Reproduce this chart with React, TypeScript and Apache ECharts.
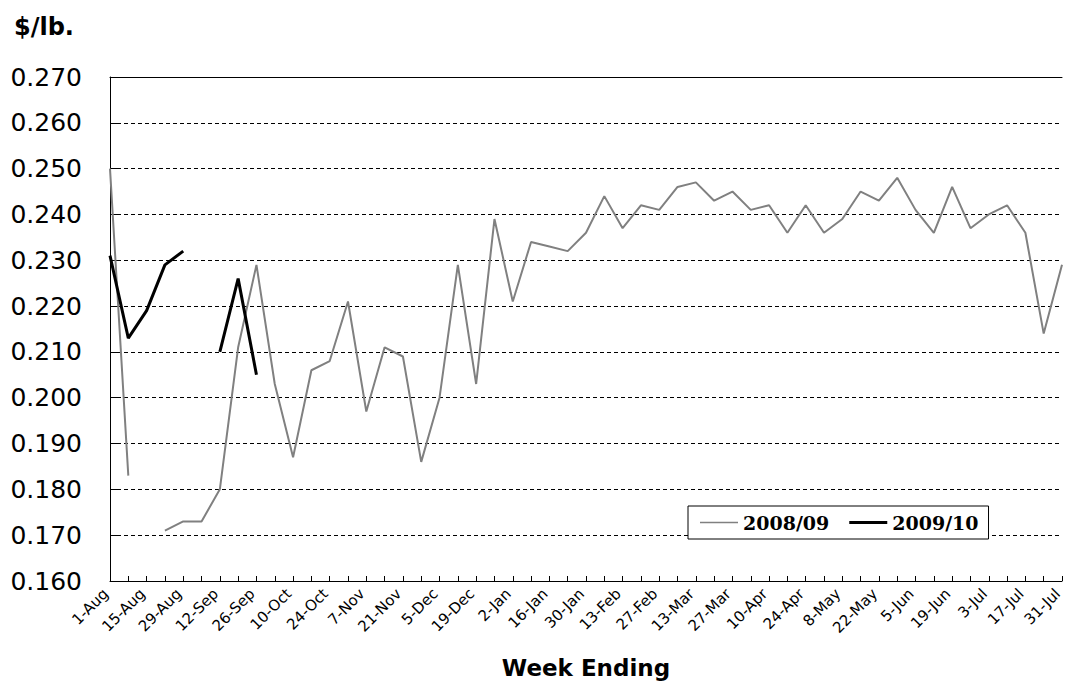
import React, { useEffect, useRef } from "react";
import * as echarts from "echarts";

const weeks = [
  "1-Aug", "8-Aug", "15-Aug", "22-Aug", "29-Aug",
  "5-Sep", "12-Sep", "19-Sep", "26-Sep",
  "3-Oct", "10-Oct", "17-Oct", "24-Oct", "31-Oct",
  "7-Nov", "14-Nov", "21-Nov", "28-Nov",
  "5-Dec", "12-Dec", "19-Dec", "26-Dec",
  "2-Jan", "9-Jan", "16-Jan", "23-Jan", "30-Jan",
  "6-Feb", "13-Feb", "20-Feb", "27-Feb",
  "6-Mar", "13-Mar", "20-Mar", "27-Mar",
  "3-Apr", "10-Apr", "17-Apr", "24-Apr",
  "1-May", "8-May", "15-May", "22-May", "29-May",
  "5-Jun", "12-Jun", "19-Jun", "26-Jun",
  "3-Jul", "10-Jul", "17-Jul", "24-Jul", "31-Jul",
];

const series0809: (number | null)[] = [
  0.250, 0.183, null, 0.171, 0.173,
  0.173, 0.180, 0.211, 0.229,
  0.203, 0.187, 0.206, 0.208, 0.221,
  0.197, 0.211, 0.209, 0.186,
  0.200, 0.229, 0.203, 0.239,
  0.221, 0.234, 0.233, 0.232, 0.236,
  0.244, 0.237, 0.242, 0.241,
  0.246, 0.247, 0.243, 0.245,
  0.241, 0.242, 0.236, 0.242,
  0.236, 0.239, 0.245, 0.243, 0.248,
  0.241, 0.236, 0.246, 0.237,
  0.240, 0.242, 0.236, 0.214, 0.229,
];

const series0910: (number | null)[] = [
  0.231, 0.213, 0.219, 0.229, 0.232,
  null, 0.210, 0.226, 0.205,
];

const seriesNames = ["2008/09", "2009/10"];

const yMin = 0.16;
const yMax = 0.27;
const yStep = 0.01;

export default function App() {
  const ref = useRef<HTMLDivElement>(null);

  useEffect(() => {
    if (!ref.current) return;
    const chart = echarts.init(ref.current, undefined, { renderer: "svg" });
    const option: any = {
      animation: false,
      backgroundColor: "#ffffff",
      title: {
        text: "$/lb.",
        left: 14,
        top: 15,
        padding: 0,
        textStyle: {
          fontFamily: "DejaVu Sans",
          fontWeight: "bold",
          fontSize: 24,
          color: "#000",
        },
      },
      legend: {
        data: [
          { name: seriesNames[0], icon: "path://M0,0H40V1.6H0Z" },
          { name: seriesNames[1], icon: "path://M0,0H40V3H0Z" },
        ],
        symbolKeepAspect: true,
        left: 688,
        top: 506,
        orient: "horizontal",
        itemWidth: 38,
        itemHeight: 20,
        itemGap: 20,
        padding: [7, 10, 7, 12],
        backgroundColor: "#ffffff",
        borderColor: "#000",
        borderWidth: 1,
        borderRadius: 0,
        textStyle: {
          fontFamily: "DejaVu Serif",
          fontWeight: "bold",
          fontSize: 19,
          color: "#000",
        },
      },
      grid: {
        left: 110,
        right: 3,
        top: 77,
        bottom: 105,
        show: false,
        containLabel: false,
        outerBoundsMode: "none",
      },
      xAxis: [
        {
          type: "category",
          data: weeks,
          boundaryGap: false,
          name: "Week Ending",
          nameLocation: "middle",
          nameGap: 75,
          nameTextStyle: {
            fontFamily: "DejaVu Sans",
            fontWeight: "bold",
            fontSize: 23,
            color: "#000",
          },
          axisLine: { show: true, lineStyle: { color: "#000", width: 1 } },
          axisTick: {
            show: true,
            inside: true,
            interval: 0,
            length: 5,
            lineStyle: { color: "#000", width: 1 },
          },
          axisLabel: {
            interval: 1,
            rotate: 45,
            margin: 6,
            padding: [0, 6, 0, 0],
            fontFamily: "DejaVu Sans",
            fontSize: 15,
            color: "#000",
          },
          splitLine: { show: false },
        },
        {
          type: "category",
          data: weeks,
          boundaryGap: false,
          position: "top",
          axisLine: { show: true, onZero: false, lineStyle: { color: "#000", width: 1 } },
          axisTick: { show: false },
          axisLabel: { show: false },
          splitLine: { show: false },
        },
      ],
      yAxis: {
        type: "value",
        min: yMin,
        max: yMax,
        interval: yStep,
        axisLine: { show: true, lineStyle: { color: "#000", width: 1 } },
        axisTick: {
          show: true,
          inside: true,
          length: 9,
          lineStyle: { color: "#000", width: 1 },
        },
        axisLabel: {
          formatter: (v: number) => v.toFixed(3),
          fontFamily: "DejaVu Sans",
          fontSize: 25,
          margin: 28,
          color: "#000",
        },
        splitLine: {
          show: true,
          lineStyle: { type: [4, 3], color: "#000", width: 1 },
        },
      },
      series: [
        {
          name: seriesNames[0],
          type: "line",
          data: series0809,
          symbol: "none",
          connectNulls: false,
          lineStyle: { color: "#808080", width: 2 },
          itemStyle: { color: "#808080" },
        },
        {
          name: seriesNames[1],
          type: "line",
          data: series0910,
          symbol: "none",
          connectNulls: false,
          lineStyle: { color: "#000", width: 3 },
          itemStyle: { color: "#000" },
        },
      ],
    };
    chart.setOption(option);
    return () => chart.dispose();
  }, []);

  return (
    <div
      ref={ref}
      style={{ position: "absolute", left: 0, top: 0, width: 1065, height: 686 }}
    />
  );
}
